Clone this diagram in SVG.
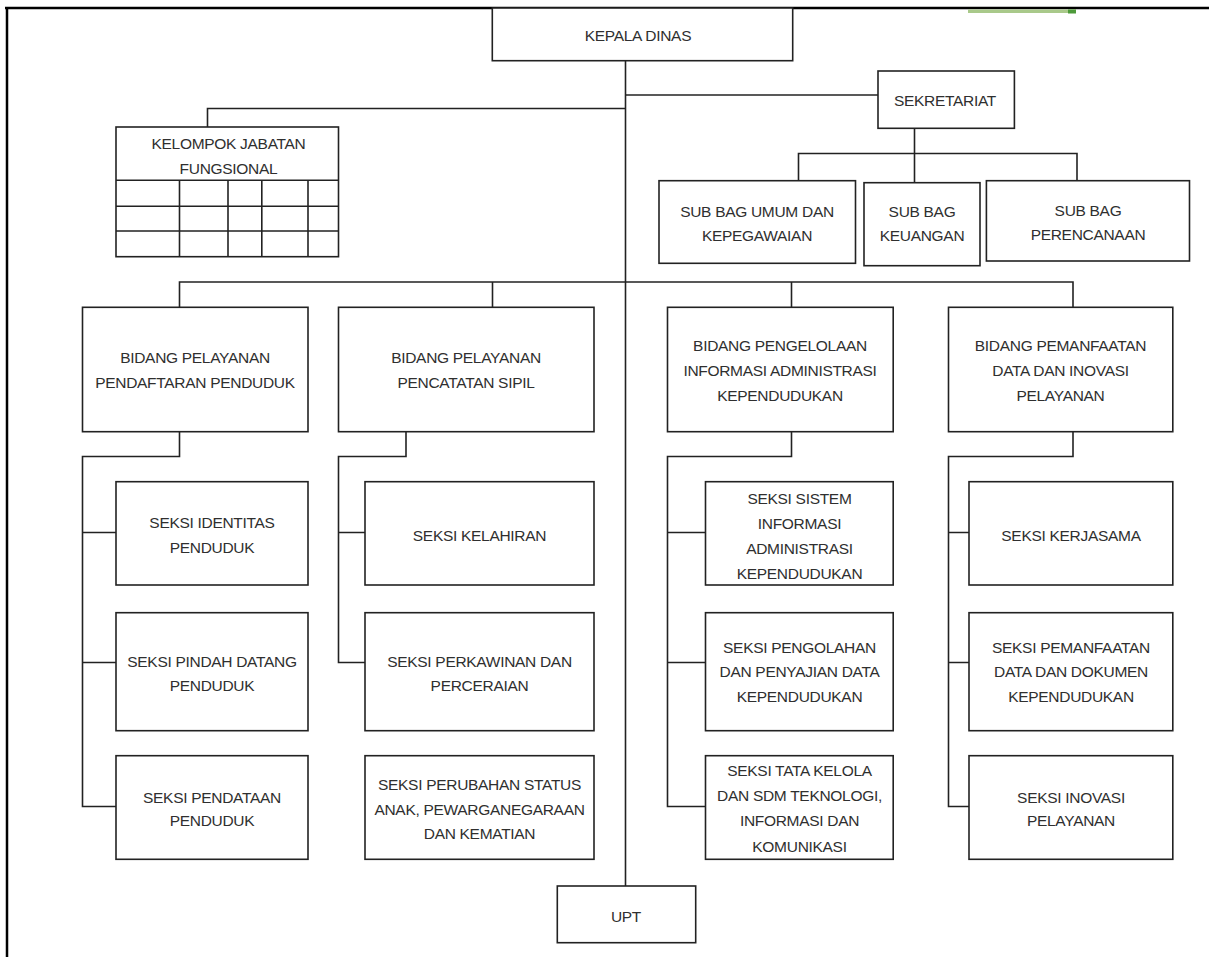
<svg xmlns="http://www.w3.org/2000/svg" width="1209" height="957" viewBox="0 0 1209 957">
<style>
.box{fill:#fff;stroke:#222;stroke-width:1.6}
.ln{fill:none;stroke:#222;stroke-width:1.6}
.t{font-family:"Liberation Sans",Arial,sans-serif;font-size:15.5px;letter-spacing:-0.3px;fill:#2f2f2f;text-anchor:middle}
</style>
<rect x="0" y="0" width="1209" height="957" fill="#fff"/>
<g id="frame">
<line x1="5" y1="8" x2="1209" y2="8" stroke="#000" stroke-width="2.5"/>
<line x1="7" y1="7" x2="7" y2="957" stroke="#000" stroke-width="2.5"/>
<rect x="968" y="9.5" width="108" height="3.5" fill="#a9c98a"/>
<rect x="1068" y="9.5" width="8" height="4" fill="#4d9a3a"/>
</g>
<g id="connectors">
<path class="ln" d="M625.5 60.5 V886"/>
<path class="ln" d="M625.5 95 H878"/>
<path class="ln" d="M625.5 108.5 H207.5 V127"/>
<path class="ln" d="M914.5 128.5 V153.5 M798.5 180.5 V153.5 H1077 V180.5 M914.5 153.5 V182.5"/>
<path class="ln" d="M179.5 307.5 V282 H1073 V307.5 M492.5 282 V307.5 M791.5 282 V307.5"/>
<path class="ln" d="M179.5 431.5 V456.5 H82.5 V806.5 H116 M82.5 532.5 H116 M82.5 662.5 H116"/>
<path class="ln" d="M406 431.5 V456.5 H338.5 V662.5 H365 M338.5 532.5 H365"/>
<path class="ln" d="M791.5 431.5 V456.5 H667.5 V806.5 H705.5 M667.5 532.5 H705.5 M667.5 662.5 H705.5"/>
<path class="ln" d="M1073 431.5 V456.5 H948.5 V806.5 H969 M948.5 532.5 H969 M948.5 662.5 H969"/>
</g>
<g id="kepala-dinas">
<rect class="box" x="492.3" y="8" width="300.4" height="52.7"/>
<text class="t" x="638" y="41">KEPALA DINAS</text>
</g>
<g id="sekretariat">
<rect class="box" x="878" y="71" width="136.4" height="57.3"/>
<text class="t" x="945" y="105.5">SEKRETARIAT</text>
</g>
<g id="kelompok-jabatan-fungsional">
<rect class="box" x="116" y="127" width="222.5" height="129.7"/>
<path class="ln" d="M116 180.3 H338.5 M116 206.3 H338.5 M116 231 H338.5 M179.5 180.3 V256.7 M228 180.3 V256.7 M261.8 180.3 V256.7 M308 180.3 V256.7"/>
<text class="t" x="228.5" y="148.5">KELOMPOK JABATAN</text>
<text class="t" x="228.5" y="173.5">FUNGSIONAL</text>
</g>
<g id="sub-bag-umum">
<rect class="box" x="659" y="180.7" width="196.5" height="82.6"/>
<text class="t" x="757" y="216.5">SUB BAG UMUM DAN</text>
<text class="t" x="757" y="240.5">KEPEGAWAIAN</text>
</g>
<g id="sub-bag-keuangan">
<rect class="box" x="864" y="182.7" width="116" height="83"/>
<text class="t" x="922" y="217">SUB BAG</text>
<text class="t" x="922" y="241">KEUANGAN</text>
</g>
<g id="sub-bag-perencanaan">
<rect class="box" x="986.4" y="180.7" width="203.1" height="80.3"/>
<text class="t" x="1088" y="216">SUB BAG</text>
<text class="t" x="1088" y="240">PERENCANAAN</text>
</g>
<g id="bidang-pendaftaran">
<rect class="box" x="82.5" y="307.3" width="225.5" height="124.4"/>
<text class="t" x="195" y="363">BIDANG PELAYANAN</text>
<text class="t" x="195" y="388">PENDAFTARAN PENDUDUK</text>
</g>
<g id="bidang-pencatatan">
<rect class="box" x="338.5" y="307.3" width="255.5" height="124.4"/>
<text class="t" x="466" y="363">BIDANG PELAYANAN</text>
<text class="t" x="466" y="388">PENCATATAN SIPIL</text>
</g>
<g id="bidang-pengelolaan">
<rect class="box" x="667.5" y="307.3" width="225.7" height="124.4"/>
<text class="t" x="780" y="351">BIDANG PENGELOLAAN</text>
<text class="t" x="780" y="376">INFORMASI ADMINISTRASI</text>
<text class="t" x="780" y="401">KEPENDUDUKAN</text>
</g>
<g id="bidang-pemanfaatan">
<rect class="box" x="948.5" y="307.3" width="224.3" height="124.4"/>
<text class="t" x="1060.5" y="351">BIDANG PEMANFAATAN</text>
<text class="t" x="1060.5" y="376">DATA DAN INOVASI</text>
<text class="t" x="1060.5" y="401">PELAYANAN</text>
</g>
<g id="seksi-identitas">
<rect class="box" x="116" y="481.7" width="192" height="103.3"/>
<text class="t" x="212" y="528">SEKSI IDENTITAS</text>
<text class="t" x="212" y="552.5">PENDUDUK</text>
</g>
<g id="seksi-pindah">
<rect class="box" x="116" y="612.7" width="192" height="118"/>
<text class="t" x="212" y="667">SEKSI PINDAH DATANG</text>
<text class="t" x="212" y="690.5">PENDUDUK</text>
</g>
<g id="seksi-pendataan">
<rect class="box" x="116" y="755.7" width="192" height="103.6"/>
<text class="t" x="212" y="802.5">SEKSI PENDATAAN</text>
<text class="t" x="212" y="826">PENDUDUK</text>
</g>
<g id="seksi-kelahiran">
<rect class="box" x="365" y="481.7" width="229" height="103.3"/>
<text class="t" x="479.5" y="541">SEKSI KELAHIRAN</text>
</g>
<g id="seksi-perkawinan">
<rect class="box" x="365" y="612.7" width="229" height="118"/>
<text class="t" x="479.5" y="667">SEKSI PERKAWINAN DAN</text>
<text class="t" x="479.5" y="690.5">PERCERAIAN</text>
</g>
<g id="seksi-perubahan">
<rect class="box" x="365" y="755.7" width="229" height="103.6"/>
<text class="t" x="479.5" y="790">SEKSI PERUBAHAN STATUS</text>
<text class="t" x="479.5" y="814.5">ANAK, PEWARGANEGARAAN</text>
<text class="t" x="479.5" y="838.5">DAN KEMATIAN</text>
</g>
<g id="seksi-sistem">
<rect class="box" x="705.5" y="481.7" width="187.7" height="103.3"/>
<text class="t" x="799.5" y="504">SEKSI SISTEM</text>
<text class="t" x="799.5" y="529">INFORMASI</text>
<text class="t" x="799.5" y="554">ADMINISTRASI</text>
<text class="t" x="799.5" y="578.5">KEPENDUDUKAN</text>
</g>
<g id="seksi-pengolahan">
<rect class="box" x="705.5" y="612.7" width="187.7" height="118"/>
<text class="t" x="799.5" y="652.5">SEKSI PENGOLAHAN</text>
<text class="t" x="799.5" y="677">DAN PENYAJIAN DATA</text>
<text class="t" x="799.5" y="701.5">KEPENDUDUKAN</text>
</g>
<g id="seksi-tata-kelola">
<rect class="box" x="705.5" y="755.7" width="187.7" height="103.6"/>
<text class="t" x="799.5" y="776">SEKSI TATA KELOLA</text>
<text class="t" x="799.5" y="801">DAN SDM TEKNOLOGI,</text>
<text class="t" x="799.5" y="826">INFORMASI DAN</text>
<text class="t" x="799.5" y="851.5">KOMUNIKASI</text>
</g>
<g id="seksi-kerjasama">
<rect class="box" x="969" y="481.7" width="203.8" height="103.3"/>
<text class="t" x="1071" y="541">SEKSI KERJASAMA</text>
</g>
<g id="seksi-pemanfaatan">
<rect class="box" x="969" y="612.7" width="203.8" height="118"/>
<text class="t" x="1071" y="652.5">SEKSI PEMANFAATAN</text>
<text class="t" x="1071" y="677">DATA DAN DOKUMEN</text>
<text class="t" x="1071" y="701.5">KEPENDUDUKAN</text>
</g>
<g id="seksi-inovasi">
<rect class="box" x="969" y="755.7" width="203.8" height="103.6"/>
<text class="t" x="1071" y="802.5">SEKSI INOVASI</text>
<text class="t" x="1071" y="826">PELAYANAN</text>
</g>
<g id="upt">
<rect class="box" x="557.3" y="886" width="138.4" height="56.7"/>
<text class="t" x="626" y="921.5">UPT</text>
</g>
</svg>
